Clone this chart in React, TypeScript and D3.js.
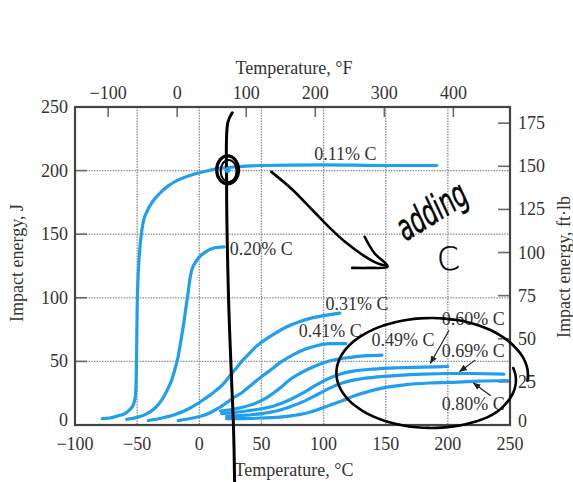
import * as d3 from "d3";

type Pt = [number, number];

// axes
const TICKS_C = [-100, -50, 0, 50, 100, 150, 200, 250];
const TICKS_F = [-100, 0, 100, 200, 300, 400];
const TICKS_J = [0, 50, 100, 150, 200, 250];
const TICKS_FTLB = [0, 25, 50, 75, 100, 125, 150, 175];
const GRID_C = [-50, 0, 50, 100, 150, 200];
const GRID_J = [50, 100, 150, 200];

// curves, [temperature °C, impact energy J]
const C011: Pt[] = [[-78, 5], [-72, 5.5], [-66, 7], [-60, 9], [-56, 12], [-53, 16], [-51.5, 22], [-50.8, 35], [-50.4, 60], [-50, 90], [-49.5, 110], [-48.5, 130], [-47, 147], [-45, 160], [-42, 168], [-38, 175], [-32, 182], [-25, 188], [-15, 193.5], [-5, 197], [5, 199.5], [15, 201.5], [30, 203], [50, 204], [100, 204.5], [150, 204], [191, 204]];
const C020: Pt[] = [[-58.5, 4.5], [-50, 6], [-42, 9], [-36, 13], [-30, 20], [-26, 27], [-22, 36], [-19, 46], [-17, 54], [-14.5, 68], [-12.5, 80], [-10.5, 94], [-9, 104], [-7.5, 115], [-6, 122], [-3, 128], [0, 132], [5, 136], [11, 139], [20, 140]];
const C031: Pt[] = [[-41, 3.5], [-30, 5.5], [-20, 8], [-8, 13], [5, 21], [12, 26], [19, 32], [25, 39], [30, 45], [35, 51], [40, 56], [45, 61], [50, 65], [60, 71.5], [70, 77], [80, 81], [90, 84], [100, 86], [113, 88]];
const C041: Pt[] = [[-17, 3.5], [-5, 5.5], [5, 8], [15, 13], [27, 21], [35, 26], [40, 30], [50, 38], [57, 43], [65, 49], [75, 55], [85, 59.5], [95, 62.5], [105, 64], [118, 64]];
const C049: Pt[] = [[17, 11], [25, 12], [35, 14], [45, 17], [55, 22], [65, 29], [72, 35], [80, 40], [90, 45], [100, 49], [110, 51.5], [120, 53], [135, 54.5], [147, 55]];
const C060: Pt[] = [[18, 9], [30, 10], [45, 12], [60, 15], [72, 19.5], [85, 26], [95, 32], [105, 37], [115, 40.5], [125, 42.5], [140, 44], [160, 45], [180, 45.5], [200, 46]];
const C069: Pt[] = [[22, 7], [35, 7.5], [50, 9], [62, 11], [72, 14], [85, 19], [95, 24], [105, 29], [115, 33], [125, 35.5], [140, 37.5], [160, 39], [180, 40], [200, 40.5], [220, 40.5], [245, 40]];
const C080: Pt[] = [[22, 5], [35, 5], [50, 5.5], [62, 6], [72, 7], [85, 9], [95, 12], [105, 15.5], [115, 19], [125, 23], [135, 26], [147, 29], [165, 31.5], [185, 33], [201, 33.5], [225, 34.5], [248, 35]];
const SERIES = [C011, C020, C031, C041, C049, C060, C069, C080];

// curve labels and where they sit (°C, J)
const LABELS = ["0.11% C", "0.20% C", "0.31% C", "0.41% C", "0.49% C", "0.60% C", "0.69% C", "0.80% C"];
const LABEL_AT: Pt[] = [[92.5, 208], [24.5, 133.5], [101.5, 90.5], [80, 69], [138.5, 62], [195, 78.5], [195, 53.5], [195, 12]];
// leader arrows: from, to
const LEADERS: [Pt, Pt][] = [[[201, 74.5], [186, 48.5]], [[222, 51], [209.5, 42]], [[234.5, 23], [220.5, 33]]];

// pen marks drawn over the figure
const PEN_LINE: Pt[] = [[26.5, 245.5], [23, 238], [22, 188], [23.6, 98], [26, 35], [27.6, -4], [28.4, -45]];
const PEN_ARROW: Pt[] = [[58, 199], [75, 185], [91, 169], [105, 155], [118.5, 143], [131, 134], [142.5, 127.5], [151, 125]];
const PEN_HEAD: Pt[] = [[133, 148], [141, 135], [151.5, 124.5], [138, 123.5], [123, 123.5]];

const BLUE = "#1f9ff0";
const INK = "#333";
const SERIF = "'Liberation Serif', 'DejaVu Serif', serif";

export default function App() {
  const x = d3.scaleLinear().domain([-100, 250]).range([75, 510]);
  const y = d3.scaleLinear().domain([0, 250]).range([425, 107]);
  const fToC = (f: number) => ((f - 32) * 5) / 9;
  const ftlbToJ = (v: number) => v * 1.35582;

  const line = d3.line<Pt>().x((d) => x(d[0])).y((d) => y(d[1])).curve(d3.curveMonotoneX);
  const pen = d3.line<Pt>().x((d) => x(d[0])).y((d) => y(d[1])).curve(d3.curveCatmullRom.alpha(0.5));

  // loose hand-drawn ellipse around the high-carbon curves
  const ec: Pt = [186.6, 40.9];
  const erx = 76.3, ery = 43.2;
  const loop: Pt[] = d3.range(0, 1.0001, 0.02).map((t) => {
    const a = (-6 + t * 374) * (Math.PI / 180);
    const r = t < 0.15 ? 0.87 + (t / 0.15) * 0.13 : 1 + (t > 0.9 ? (t - 0.9) * 0.25 : 0);
    return [ec[0] + Math.cos(a) * erx * r, ec[1] - Math.sin(a) * ery * r];
  });

  const x0 = x(-100), x1 = x(250), y0 = y(0), y1 = y(250);
  const circX = x(22.8), circY = y(200.5);
  const crx = x(22.8 + 8.8) - circX, cry = y(200.5 - 11) - circY;

  return (
    <svg width={573} height={482} style={{ position: "absolute", left: 0, top: 0, background: "#fff" }}>
      <defs>
        <marker id="ah" viewBox="0 0 10 10" refX="9" refY="5" markerWidth="8" markerHeight="8" orient="auto" markerUnits="userSpaceOnUse">
          <path d="M0,1 L10,5 L0,9 Z" fill="#222" />
        </marker>
      </defs>

      {/* grid */}
      <g stroke="#8a8a8a" strokeWidth={1.3} strokeDasharray="1.5 1.2">
        {GRID_C.map((c) => <line key={"gc" + c} x1={x(c)} x2={x(c)} y1={y1} y2={y0} />)}
        {GRID_J.map((j) => <line key={"gj" + j} x1={x0} x2={x1} y1={y(j)} y2={y(j)} />)}
      </g>

      {/* inner ticks */}
      <g stroke="#6a6a6a" strokeWidth={1.6}>
        {GRID_J.map((j) => <line key={"tl" + j} x1={x0} x2={x0 + 12} y1={y(j)} y2={y(j)} />)}
        {TICKS_FTLB.map((v) => <line key={"tr" + v} x1={x1 - 12} x2={x1} y1={y(ftlbToJ(v))} y2={y(ftlbToJ(v))} />)}
        {TICKS_F.map((f) => <line key={"tt" + f} x1={x(fToC(f))} x2={x(fToC(f))} y1={y1} y2={y1 + 10} />)}
      </g>

      {/* frame */}
      <rect x={x0} y={y1} width={x1 - x0} height={y0 - y1} fill="none" stroke="#444" strokeWidth={2.2} />

      {/* curves */}
      <g fill="none" stroke={BLUE} strokeWidth={3.2} strokeLinecap="round">
        {SERIES.map((s, i) => <path key={i} d={line(s) || ""} />)}
      </g>

      {/* text */}
      <g fontFamily={SERIF} fill={INK} fontSize={18}>
        {TICKS_C.map((c) => (
          <text key={"xc" + c} x={x(c)} y={450} textAnchor="middle">{c < 0 ? "\u2212" + Math.abs(c) : c}</text>
        ))}
        {TICKS_F.map((f) => (
          <text key={"xf" + f} x={x(fToC(f))} y={99} textAnchor="middle">{f < 0 ? "\u2212" + Math.abs(f) : f}</text>
        ))}
        {TICKS_J.map((j) => (
          <text key={"yj" + j} x={68} y={y(j) + (j === 0 ? 1 : 6)} textAnchor="end">{j}</text>
        ))}
        {TICKS_FTLB.map((v) => (
          <text key={"yf" + v} x={518} y={y(ftlbToJ(v)) + (v === 0 ? 2 : 6)} textAnchor="start">{v}</text>
        ))}
        <text x={294} y={74} textAnchor="middle">Temperature, °F</text>
        <text x={294} y={476} textAnchor="middle">Temperature, °C</text>
        <text transform={`translate(23,263) rotate(-90)`} textAnchor="middle">Impact energy, J</text>
        <text transform={`translate(570,267) rotate(-90)`} textAnchor="middle">Impact energy, ft·lb</text>
        {LABELS.map((l, i) => (
          <text key={l} x={x(LABEL_AT[i][0])} y={y(LABEL_AT[i][1])}>{l}</text>
        ))}
      </g>

      {/* leaders */}
      <g stroke="#222" strokeWidth={1.2}>
        {LEADERS.map(([a, b], i) => (
          <line key={i} x1={x(a[0])} y1={y(a[1])} x2={x(b[0])} y2={y(b[1])} markerEnd="url(#ah)" />
        ))}
      </g>

      {/* pen annotations */}
      <g fill="none" stroke="#000" strokeLinecap="round" strokeLinejoin="round">
        <path d={pen(PEN_LINE) || ""} strokeWidth={3} />
        <ellipse cx={circX} cy={circY} rx={crx} ry={cry} strokeWidth={3.2} />
        <ellipse cx={circX + 1} cy={circY + 1} rx={crx - 3} ry={cry - 3} strokeWidth={2} />
        <path d={pen(PEN_ARROW) || ""} strokeWidth={2.6} />
        <path d={pen(PEN_HEAD) || ""} strokeWidth={2.6} />
        <path d={pen(loop) || ""} strokeWidth={2.6} />
      </g>
      <circle cx={circX} cy={circY} r={3} fill={BLUE} />
      <g fontFamily="'DejaVu Sans', sans-serif" fill="#000" stroke="#000" strokeWidth={0.4}>
        <text transform={`translate(${x(166)},${y(144)}) rotate(-32) scale(0.8,1.3)`} fontSize={28} fontStyle="italic" fontWeight={300}>adding</text>
        <text transform={`translate(${x(192)},${y(121)}) rotate(-5)`} fontSize={32} fontWeight={300}>C</text>
      </g>
    </svg>
  );
}
